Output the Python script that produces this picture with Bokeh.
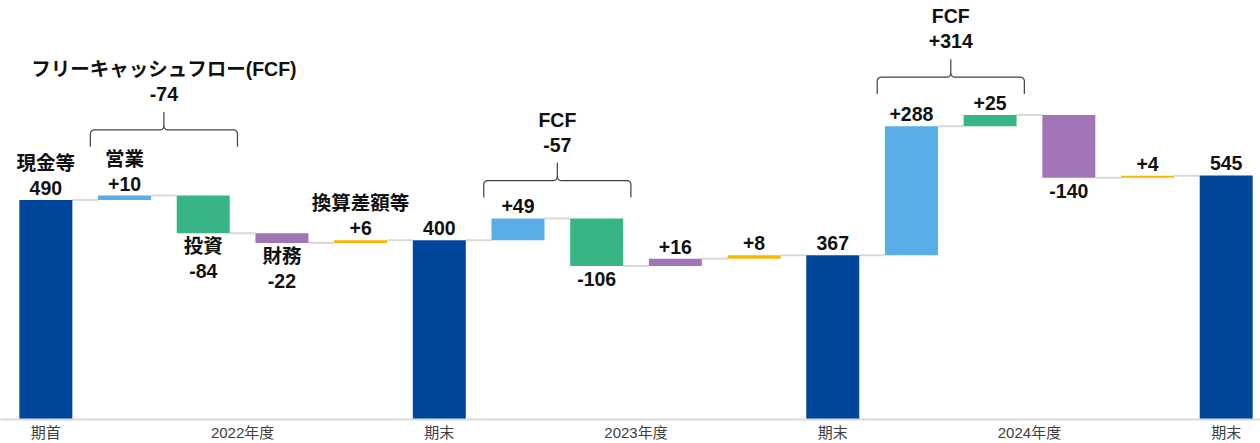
import math
from bokeh.plotting import figure
from bokeh.models import Range1d, FixedTicker, ColumnDataSource
from bokeh.core.properties import value
from bokeh.embed import file_html
from bokeh.resources import INLINE

# ---------------- data ----------------
kinds = ["total", "op", "inv", "fin", "fx",
         "total", "op", "inv", "fin", "fx",
         "total", "op", "inv", "fin", "fx",
         "total"]
values = [490, 10, -84, -22, 6,
          400, 49, -106, 16, 8,
          367, 288, 25, -140, 4,
          545]
names = ["現金等", "営業", "投資", "財務", "換算差額等",
         "", "", "", "", "",
         "", "", "", "", "",
         ""]
axis_labels = ["期首", "2022年度", "期末", "2023年度", "期末", "2024年度", "期末"]
fcf_groups = [(1, 2), (6, 7), (11, 12)]
fcf_names = ["フリーキャッシュフロー(FCF)", "FCF", "FCF"]
fcf_values = [-74, -57, 314]

colors = {"total": "#00469b", "op": "#5aade6", "inv": "#38b584",
          "fin": "#a175b6", "fx": "#f7b600"}

# ---------------- layout ----------------
W, H = 1260, 443
AXIS_H = 22
frame_h = H - AXIS_H
step_px = 78.69
px_per_unit_y = 0.45
x0 = -45.35 / step_px
x1 = x0 + W / step_px
y1 = frame_h / px_per_unit_y
ux = 1.0 / step_px          # x data units per pixel
uy = 1.0 / px_per_unit_y    # y data units per pixel
BW = 0.6735

FONT = value("Liberation Sans, Noto Sans CJK JP")
FS = "19.5px"

# ---------------- compute waterfall ----------------
xs, bottoms, tops, cols, ends = [], [], [], [], []
running = 0
for i, (k, v) in enumerate(zip(kinds, values)):
    if k == "total":
        b, t = 0, v
        running = v
    else:
        s, e = running, running + v
        b, t = min(s, e), max(s, e)
        running = e
    xs.append(i)
    bottoms.append(b)
    tops.append(t)
    cols.append(colors[k])
    ends.append(running)

bars = ColumnDataSource(dict(x=xs, bottom=bottoms, top=tops, color=cols))

# connectors
cx0 = [i + BW / 2 for i in range(len(values) - 1)]
cx1 = [i + 1 - BW / 2 for i in range(len(values) - 1)]
cy = [ends[i] for i in range(len(values) - 1)]

# labels
lx, ly, ltxt, loff = [], [], [], []
for i, (k, v) in enumerate(zip(kinds, values)):
    txt = str(v) if k == "total" else f"{v:+d}"
    above = (k == "total") or v >= 0
    nm = names[i]
    if above:
        lx.append(i); ly.append(tops[i]); ltxt.append(txt); loff.append(-12)
        if nm:
            lx.append(i); ly.append(tops[i]); ltxt.append(nm); loff.append(-37)
    else:
        if nm:
            lx.append(i); ly.append(bottoms[i]); ltxt.append(nm); loff.append(12.5)
            lx.append(i); ly.append(bottoms[i]); ltxt.append(txt); loff.append(37.5)
        else:
            lx.append(i); ly.append(bottoms[i]); ltxt.append(txt); loff.append(13)
labels = ColumnDataSource(dict(x=lx, y=ly, text=ltxt, yo=loff))


def arc(cxp, cyp, r, a0, a1, n=8):
    pts = []
    for j in range(n + 1):
        a = math.radians(a0 + (a1 - a0) * j / n)
        pts.append((cxp + r * math.cos(a) * ux, cyp + r * math.sin(a) * uy))
    return pts


def brace(xl, xr, yb):
    xc = (xl + xr) / 2
    r = 4
    yh = yb + 17 * uy
    left = [(xl, yb)]
    left += arc(xl + r * ux, yh - r * uy, r, 180, 90)
    left += arc(xc - r * ux, yh + r * uy, r, 270, 360)
    left += [(xc, yb + 35 * uy)]
    right = arc(xc + r * ux, yh + r * uy, r, 180, 270)
    right += arc(xr - r * ux, yh - r * uy, r, 90, 0)
    right += [(xr, yb)]
    return left, right, yb + 35 * uy, xc


bxs, bys = [], []
fx, fy, ftxt, foff = [], [], [], []
for (a, b), nm, fv in zip(fcf_groups, fcf_names, fcf_values):
    top = max(tops[a], tops[b])
    has_name = any(names[a:b + 1])
    yb = top + (21 + 28 * has_name) * uy
    l, r, tip, xc = brace(a - 0.435, b + 0.435, yb)
    for seg in (l, r):
        bxs.append([p[0] for p in seg])
        bys.append([p[1] for p in seg])
    fx += [xc, xc]
    fy += [tip, tip]
    ftxt += [f"{fv:+d}", nm]
    foff += [-18, -43]
fcf = ColumnDataSource(dict(x=fx, y=fy, text=ftxt, yo=foff))

# axis ticks
totals_idx = [i for i, k in enumerate(kinds) if k == "total"]
tick_pos = []
for j, ti in enumerate(totals_idx):
    tick_pos.append(ti)
    if j + 1 < len(totals_idx):
        tick_pos.append((ti + totals_idx[j + 1]) / 2)
overrides = {t: lab for t, lab in zip(tick_pos, axis_labels)}

# ---------------- figure ----------------
p = figure(width=W, height=H, x_range=Range1d(x0, x1), y_range=Range1d(0, y1),
           output_backend="svg", toolbar_location=None, y_axis_location=None,
           min_border_left=0, min_border_right=0, min_border_top=0,
           min_border_bottom=AXIS_H)
p.outline_line_color = None
p.xgrid.visible = False
p.ygrid.visible = False
p.background_fill_color = "white"
p.border_fill_color = "white"

p.segment(x0=cx0, y0=cy, x1=cx1, y1=cy, line_color="#d9d9d9", line_width=2)
p.vbar(x="x", width=BW, bottom="bottom", top="top", fill_color="color",
       line_color=None, source=bars)

p.text(x="x", y="y", text="text", y_offset="yo", source=labels,
       text_align="center", text_baseline="middle", text_font=FONT,
       text_font_size=FS, text_font_style="bold", text_color="#111111")

p.multi_line(xs=bxs, ys=bys, line_color="#404040", line_width=1.2)
p.text(x="x", y="y", text="text", y_offset="yo", source=fcf,
       text_align="center", text_baseline="middle", text_font=FONT,
       text_font_size=FS, text_font_style="bold", text_color="#111111")

ax = p.xaxis[0]
ax.ticker = FixedTicker(ticks=tick_pos)
ax.major_label_overrides = overrides
ax.axis_line_color = "#d9d9d9"
ax.axis_line_width = 2
ax.major_tick_line_color = None
ax.minor_tick_line_color = None
ax.major_tick_out = 0
ax.major_tick_in = 0
ax.major_label_standoff = 4
ax.major_label_text_font_size = "15px"
ax.major_label_text_font = "Liberation Sans, Noto Sans CJK JP"
ax.major_label_text_color = "#404040"

open("out.html", "w").write(file_html(p, INLINE))
